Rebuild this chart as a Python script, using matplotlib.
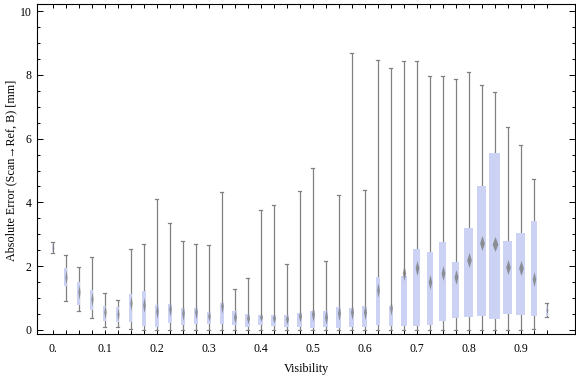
import numpy as np
import matplotlib
matplotlib.use("Agg")
import matplotlib.pyplot as plt
from matplotlib.patches import Rectangle
from matplotlib.path import Path
from matplotlib.ticker import FixedLocator, MultipleLocator

plt.rcParams['font.family'] = ['Liberation Serif', 'DejaVu Serif']

visibility = [round(0.025 * k, 3) for k in range(39)]
whisk_lo = [2.40, 0.91, 0.61, 0.37, 0.10, 0.10, 0.03, 0.00, 0.00, 0.00,
            0.00, 0.00, 0.00, 0.00, 0.00, 0.00, 0.00, 0.00, 0.00, 0.00,
            0.00, 0.00, 0.00, 0.00, 0.00, 0.00, 0.00, 0.00, 0.00, 0.00,
            0.00, 0.00, 0.00, 0.00, 0.00, 0.00, 0.00, 0.02, 0.42]
q1 = [2.45, 1.37, 0.79, 0.64, 0.27, 0.26, 0.26, 0.13, 0.10, 0.23,
      0.16, 0.19, 0.20, 0.19, 0.17, 0.10, 0.17, 0.13, 0.10, 0.10,
      0.06, 0.08, 0.07, 0.10, 0.09, 0.15, 0.13, 0.13, 0.13, 0.17,
      0.29, 0.39, 0.42, 0.44, 0.33, 0.51, 0.47, 0.45, 0.44]
centers = [2.58, 1.67, 1.20, 0.97, 0.57, 0.50, 0.84, 0.78, 0.60, 0.65,
           0.52, 0.57, 0.45, 0.75, 0.42, 0.37, 0.40, 0.37, 0.35, 0.44,
           0.50, 0.40, 0.54, 0.57, 0.57, 1.25, 0.70, 1.78, 1.93, 1.51,
           1.78, 1.65, 2.19, 2.72, 2.70, 1.98, 1.95, 1.59, 0.63]
q3 = [2.70, 1.95, 1.50, 1.24, 0.75, 0.71, 1.13, 1.22, 0.78, 0.82,
      0.69, 0.69, 0.56, 0.86, 0.60, 0.50, 0.46, 0.47, 0.47, 0.53,
      0.61, 0.60, 0.72, 0.70, 0.75, 1.66, 0.76, 1.69, 2.54, 2.45,
      2.76, 2.13, 3.20, 4.52, 5.55, 2.79, 3.05, 3.42, 0.73]
whisk_hi = [2.75, 2.35, 1.96, 2.28, 1.15, 0.93, 2.53, 2.69, 4.10, 3.34,
            2.78, 2.69, 2.65, 4.33, 1.27, 1.62, 3.75, 3.91, 2.07, 4.36,
            5.07, 2.15, 4.23, 8.67, 4.38, 8.45, 8.20, 8.42, 8.43, 7.96,
            7.96, 7.86, 8.08, 7.68, 7.45, 6.35, 5.79, 4.73, 0.84]
# relative box width (share of the 0.025 slot), reflects sample weight
rel_width = [0.08, 0.23, 0.25, 0.25, 0.27, 0.23, 0.25, 0.31, 0.31, 0.31,
             0.31, 0.31, 0.31, 0.31, 0.38, 0.38, 0.38, 0.38, 0.38, 0.38,
             0.38, 0.38, 0.38, 0.38, 0.40, 0.33, 0.31, 0.46, 0.51, 0.48,
             0.51, 0.54, 0.67, 0.69, 0.85, 0.67, 0.69, 0.48, 0.15]
xtick_vals = [0.0, 0.1, 0.2, 0.3, 0.4, 0.5, 0.6, 0.7, 0.8, 0.9]
xtick_labels = ["0.", "0.1", "0.2", "0.3", "0.4", "0.5", "0.6", "0.7", "0.8", "0.9"]
ytick_vals = [0, 2, 4, 6, 8, 10]

box_color = "#cbd2f4"
line_color = "#808080"

fig = plt.figure(figsize=(5.76, 3.77), dpi=100)
ax = fig.add_axes([37 / 576, 1 - 334.3 / 377, 538 / 576, 330.3 / 377])
ax.set_xlim(-0.0302, 1.0044)
ax.set_ylim(-0.135, 10.22)

slot = 0.025
cap = 0.0028
px_per_y = 330.3 / (10.22 + 0.135)
px_per_x = 538 / (1.0044 + 0.0302)

for x, lo, a, c, b, hi, w in zip(visibility, whisk_lo, q1, centers, q3, whisk_hi, rel_width):
    bw = w * slot
    ax.plot([x, x], [lo, hi], color=line_color, lw=0.9, zorder=2, solid_capstyle='butt')
    ax.plot([x - cap, x + cap], [hi, hi], color=line_color, lw=0.9, zorder=2)
    ax.plot([x - cap, x + cap], [lo, lo], color=line_color, lw=0.9, zorder=2)
    ax.add_patch(Rectangle((x - bw / 2, a), bw, b - a, facecolor=box_color,
                           edgecolor='none', zorder=3))
    box_px = (b - a) * px_per_y
    hh = min(7.5, max(2.5, 0.45 * box_px))
    hw = max(0.8, 0.22 * bw * px_per_x + 0.4)
    ratio = hw / hh
    diamond = Path([(0, 1), (ratio, 0), (0, -1), (-ratio, 0), (0, 1)],
                   [Path.MOVETO, Path.LINETO, Path.LINETO, Path.LINETO, Path.CLOSEPOLY])
    ax.plot([x], [c], marker=diamond, markersize=2 * hh * 0.72,
            color="#7a7a7a", markeredgewidth=0, alpha=0.78, zorder=4)

ax.xaxis.set_major_locator(FixedLocator(xtick_vals))
ax.xaxis.set_minor_locator(FixedLocator(visibility))
ax.set_xticklabels(xtick_labels)
ax.yaxis.set_major_locator(FixedLocator(ytick_vals))
ax.yaxis.set_minor_locator(MultipleLocator(0.5))

ax.tick_params(axis='x', which='both', direction='in', top=True, bottom=True,
               length=3.0, width=0.7, labelsize=8.5, pad=6)
ax.tick_params(axis='y', which='major', direction='in', left=True, right=True,
               length=4.3, width=0.7, labelsize=8.5, pad=4)
ax.tick_params(axis='y', which='minor', direction='in', left=True, right=True,
               length=2.5, width=0.7)
for s in ax.spines.values():
    s.set_linewidth(0.8)

ax.set_xlabel("Visibility", fontsize=8.7, labelpad=6)
fig.text(11 / 576, 1 - 170 / 377, "Absolute Error (Scan\u2192Ref, B) [mm]",
         rotation=90, ha='center', va='center', fontsize=8.7)

fig.savefig("out.png", dpi=100)
